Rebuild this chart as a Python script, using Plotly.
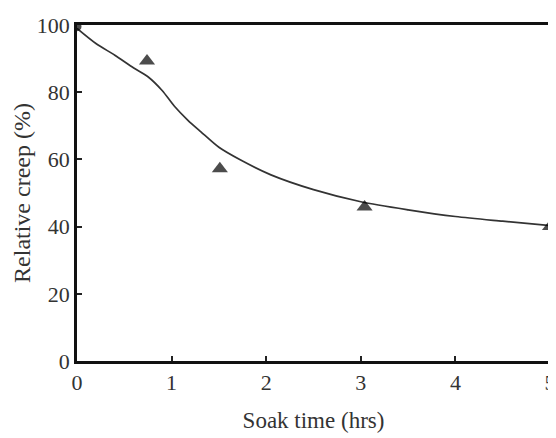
import plotly.graph_objects as go

# Measured points
soak_time = [0.0, 0.74, 1.51, 3.04, 5.0]
creep_pts = [99.5, 89.3, 57.2, 45.8, 40.0]
point_symbols = ["circle", "triangle-up", "triangle-up", "triangle-up", "triangle-up"]

# Fitted curve
curve_time = [0.0, 0.2, 0.4, 0.6, 0.75, 0.9, 1.03, 1.17, 1.31, 1.5, 1.73, 2.05, 2.5, 3.0, 3.5, 4.0, 4.5, 5.0]
curve_creep = [99.0, 94.5, 91.0, 87.2, 84.6, 80.5, 75.8, 71.7, 68.2, 63.6, 59.8, 55.4, 51.0, 47.4, 45.0, 43.0, 41.6, 40.3]

x_ticks = [0, 1, 2, 3, 4, 5]
y_ticks = [0, 20, 40, 60, 80, 100]

fig = go.Figure()
fig.add_trace(go.Scatter(x=curve_time, y=curve_creep, mode="lines",
                         line=dict(color="#333333", width=1.7, shape="spline", smoothing=0.8),
                         showlegend=False, hoverinfo="skip"))
fig.add_trace(go.Scatter(x=soak_time, y=creep_pts, mode="markers",
                         marker=dict(symbol=point_symbols, size=[9, 14, 14, 14, 14], color="black",
                                     line=dict(width=0)),
                         showlegend=False))

font_family = "Liberation Serif"
# The page body adds an 8px offset, so the figure is sized to fit inside the window.
fig.update_layout(
    width=548, height=430,
    margin=dict(l=69, r=6, t=17, b=77, autoexpand=False),
    paper_bgcolor="white", plot_bgcolor="white",
    font=dict(family=font_family, color="#333333", size=22),
    xaxis=dict(range=[0, 5], tickvals=x_ticks, ticks="inside", ticklen=5, tickwidth=2,
               tickcolor="#222222", showline=True, linecolor="#111111", linewidth=2.5,
               mirror=True, showgrid=False, zeroline=False, automargin=False,
               tickfont=dict(size=22, family=font_family, color="#333333"),
               title=dict(text="Soak time (hrs)", font=dict(size=23, family=font_family, color="#333333"),
                          standoff=18)),
    yaxis=dict(range=[0, 100], tickvals=y_ticks, ticks="inside", ticklen=5, tickwidth=2,
               tickcolor="#222222", showline=True, linecolor="#111111", linewidth=2.5,
               mirror=True, showgrid=False, zeroline=False, automargin=False,
               tickfont=dict(size=22, family=font_family, color="#333333"),
               title=dict(text="Relative creep (%)", font=dict(size=24, family=font_family, color="#333333"),
                          standoff=0)),
)

fig.write_html("out.html")
